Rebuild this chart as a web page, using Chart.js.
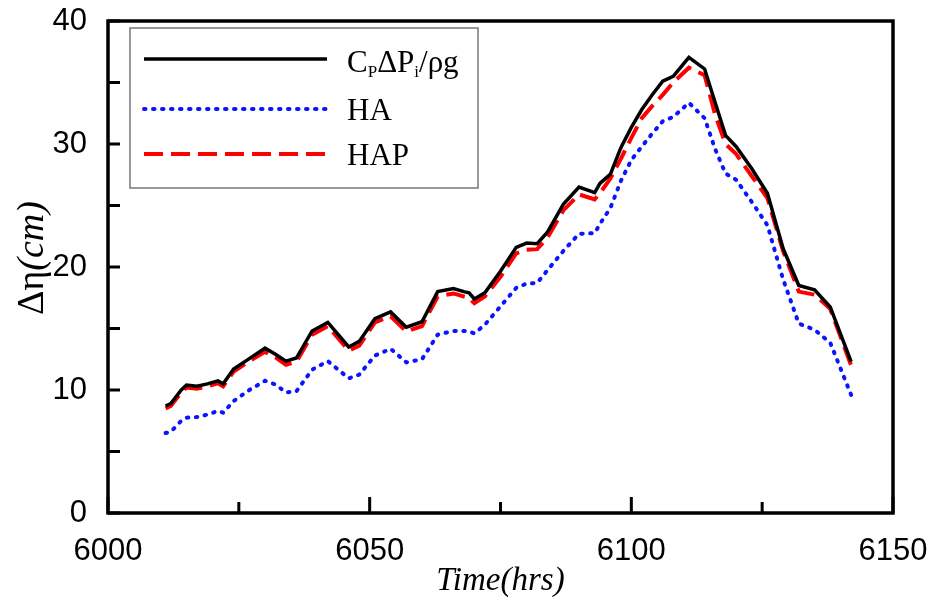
<!DOCTYPE html>
<html>
<head>
<meta charset="utf-8">
<script src="https://cdn.jsdelivr.net/npm/chart.js@4.4.1/dist/chart.umd.min.js"></script>
<style>
  html, body { margin: 0; padding: 0; background: #fff; }
  #wrap { width: 932px; height: 603px; }
</style>
</head>
<body>
<div id="wrap"><canvas id="etaChart" width="932" height="603"></canvas></div>
<script>
// values
const hours = [6011, 6012, 6014, 6015, 6017, 6019, 6021, 6022, 6024, 6027, 6030, 6032, 6034, 6036,
  6039, 6042, 6044, 6046, 6048, 6051, 6054, 6057, 6060, 6063, 6066, 6068, 6069, 6070, 6072, 6075,
  6078, 6080, 6082, 6084, 6087, 6090, 6093, 6094, 6096, 6098, 6100, 6102, 6104, 6106, 6108, 6111,
  6114, 6116, 6118, 6120, 6123, 6126, 6129, 6132, 6135, 6138, 6142];
const cpData = [8.7, 8.9, 10.0, 10.4, 10.3, 10.5, 10.75, 10.5, 11.7, 12.55, 13.4, 12.9, 12.35, 12.6,
  14.8, 15.5, 14.5, 13.5, 13.95, 15.8, 16.35, 15.1, 15.55, 18.0, 18.25, 18.0, 17.9, 17.4, 17.9, 19.65,
  21.6, 21.95, 21.9, 22.85, 25.1, 26.5, 26.05, 26.8, 27.55, 29.7, 31.35, 32.8, 34.0, 35.1, 35.5, 37.05,
  36.1, 33.4, 30.7, 29.8, 28.0, 26.0, 21.5, 18.5, 18.15, 16.75, 12.3];
const haData = [6.5, 6.6, 7.5, 7.75, 7.8, 8.0, 8.3, 8.15, 9.1, 10.0, 10.75, 10.45, 9.8, 9.9,
  11.65, 12.35, 11.65, 10.95, 11.25, 12.8, 13.35, 12.25, 12.5, 14.5, 14.8, 14.8, 14.75, 14.6, 15.3, 16.8,
  18.3, 18.65, 18.7, 19.75, 21.3, 22.7, 22.75, 23.5, 24.8, 27.0, 28.7, 29.8, 30.85, 31.85, 32.2, 33.35,
  32.1, 29.6, 27.6, 27.1, 25.3, 23.4, 19.0, 15.4, 14.9, 13.85, 9.6];
const hapData = [8.5, 8.7, 9.8, 10.2, 10.1, 10.3, 10.55, 10.3, 11.5, 12.35, 13.1, 12.65, 12.05, 12.3,
  14.5, 15.2, 14.2, 13.2, 13.6, 15.5, 16.0, 14.75, 15.2, 17.6, 17.85, 17.6, 17.5, 17.05, 17.6, 19.2,
  21.1, 21.4, 21.45, 22.4, 24.6, 25.9, 25.5, 26.0, 27.2, 28.8, 30.5, 32.1, 33.1, 34.0, 35.0, 36.2,
  35.6, 32.4, 30.0, 29.2, 27.4, 25.6, 21.3, 18.0, 17.75, 16.6, 12.0];
const seriesLabels = ['C_{P}ΔP_{i}/ρg', 'HA', 'HAP'];
const xMin = 6000, xMax = 6150, xMajorStep = 50, xMinorStep = 25;
const yMin = 0, yMax = 40, yMajorStep = 10, yMinorStep = 5;

const toPoints = vals => vals.map((v, i) => ({ x: hours[i], y: v }));

const serif = "'Liberation Serif', 'Times New Roman', serif";
const sans = "'Liberation Sans', Arial, sans-serif";

// box, inward ticks, legend and y title
const framePlugin = {
  id: 'frame',
  afterDraw(chart) {
    const { ctx, chartArea: a, scales: { x, y } } = chart;
    ctx.save();
    ctx.strokeStyle = '#000';
    ctx.lineWidth = 3;
    ctx.beginPath();
    for (let t = xMin; t <= xMax; t += xMinorStep) {
      const px = x.getPixelForValue(t);
      const len = (t - xMin) % xMajorStep === 0 ? 16 : 11;
      ctx.moveTo(px, a.bottom);
      ctx.lineTo(px, a.bottom - len);
    }
    for (let v = yMin; v <= yMax; v += yMinorStep) {
      const py = y.getPixelForValue(v);
      ctx.moveTo(a.left, py);
      ctx.lineTo(a.left + 12, py);
    }
    ctx.stroke();
    ctx.lineWidth = 3.5;
    ctx.strokeRect(a.left, a.top, a.right - a.left, a.bottom - a.top);

    // legend
    const box = { x: 130, y: 28, w: 348, h: 160 };
    ctx.fillStyle = '#fff';
    ctx.fillRect(box.x, box.y, box.w, box.h);
    ctx.strokeStyle = '#777';
    ctx.lineWidth = 1.5;
    ctx.strokeRect(box.x, box.y, box.w, box.h);
    const rows = [59, 109, 154];
    chart.data.datasets.forEach((ds, i) => {
      const ry = rows[i];
      ctx.save();
      ctx.strokeStyle = ds.borderColor;
      ctx.lineWidth = ds.borderWidth;
      ctx.lineCap = ds.borderCapStyle || 'butt';
      ctx.setLineDash(ds.borderDash || []);
      ctx.beginPath();
      ctx.moveTo(144, ry);
      ctx.lineTo(327, ry);
      ctx.stroke();
      ctx.restore();
      drawRich(ctx, ds.label, 347, ry + 11 + (i === 0 ? 2 : 0));
    });

    // y axis title, upright greek + italic unit
    ctx.save();
    ctx.translate(33, 258);
    ctx.rotate(-Math.PI / 2);
    ctx.fillStyle = '#000';
    ctx.textBaseline = 'middle';
    const f1 = '38px ' + serif, f2 = 'italic 38px ' + serif;
    ctx.font = f1; const w1 = ctx.measureText('Δη').width;
    ctx.font = f2; const w2 = ctx.measureText('(cm)').width;
    let cx = -(w1 + w2) / 2;
    ctx.font = f1; ctx.fillText('Δη', cx, 0);
    ctx.font = f2; ctx.fillText('(cm)', cx + w1, 0);
    ctx.restore();
    ctx.restore();
  }
};

function drawRich(ctx, text, x, baseline) {
  const parts = text.split(/(_\{[^}]*\})/).filter(Boolean);
  ctx.fillStyle = '#000';
  ctx.textBaseline = 'alphabetic';
  let cx = x;
  parts.forEach(p => {
    if (p.startsWith('_{')) {
      ctx.font = '17px ' + serif;
      const s = p.slice(2, -1);
      ctx.fillText(s, cx, baseline + 5);
      cx += ctx.measureText(s).width;
    } else {
      ctx.font = '31px ' + serif;
      ctx.fillText(p, cx, baseline);
      cx += ctx.measureText(p).width;
    }
  });
}

const noEdgePadding = s => { s.paddingTop = 0; s.paddingBottom = 0; s.paddingLeft = 0; s.paddingRight = 0; };

new Chart(document.getElementById('etaChart'), {
  type: 'line',
  data: {
    datasets: [
      { label: seriesLabels[0], data: toPoints(cpData), borderColor: '#000', borderWidth: 3.5, order: 0 },
      { label: seriesLabels[1], data: toPoints(haData), borderColor: '#0a14ff', borderWidth: 4,
        borderDash: [1.5, 7.5], borderCapStyle: 'round', order: 2 },
      { label: seriesLabels[2], data: toPoints(hapData), borderColor: '#ff0000', borderWidth: 4,
        borderDash: [19, 8], order: 1 }
    ]
  },
  options: {
    responsive: false, animation: false,
    layout: { padding: { top: 21, right: 39, left: 0, bottom: 0 } },
    elements: { point: { radius: 0 }, line: { tension: 0 } },
    plugins: { legend: { display: false }, tooltip: { enabled: false } },
    scales: {
      x: {
        type: 'linear', min: xMin, max: xMax,
        grid: { display: false, drawTicks: false },
        border: { display: false },
        ticks: { stepSize: xMajorStep, color: '#000', padding: 20, maxRotation: 0,
          font: { family: sans, size: 31 }, callback: v => v },
        title: { display: true, text: 'Time(hrs)', color: '#000',
          font: { family: serif, size: 33, style: 'italic' }, padding: { top: 0, bottom: 2 } },
        afterFit: s => { s.height = 90; noEdgePadding(s); }
      },
      y: {
        min: yMin, max: yMax,
        grid: { display: false, drawTicks: false },
        border: { display: false },
        ticks: { stepSize: yMajorStep, color: '#000', padding: 21, font: { family: sans, size: 31 } },
        afterFit: s => { s.width = 108; noEdgePadding(s); }
      }
    }
  },
  plugins: [framePlugin]
});
</script>
</body>
</html>
